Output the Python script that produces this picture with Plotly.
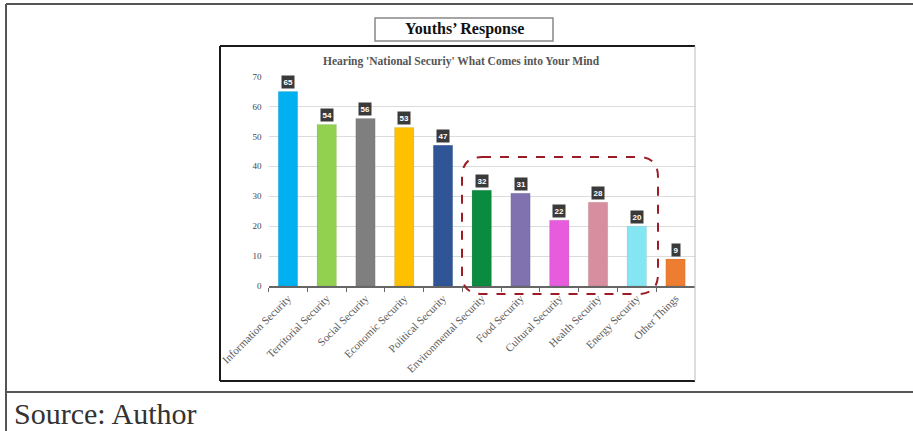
import plotly.graph_objects as go

categories = ["Information Security", "Territorial Security", "Social Security",
              "Economic Security", "Political Security", "Environmental Security",
              "Food Security", "Cultural Security", "Health Security",
              "Energy Security", "Other Things"]
values = [65, 54, 56, 53, 47, 32, 31, 22, 28, 20, 9]
colors = ["#00B0F0", "#92D050", "#7F7F7F", "#FFC000", "#2F5597", "#0A8B3F",
          "#7F72AE", "#E65CDC", "#D78E9E", "#84E6F2", "#ED7D31"]
y_ticks = [0, 10, 20, 30, 40, 50, 60, 70]

W, H = 913, 431


def px(x):
    return x / W


def py(y):
    return 1 - y / H


fig = go.Figure()
fig.add_trace(go.Bar(
    x=categories, y=values,
    marker=dict(color=colors, line=dict(color="rgba(0,0,0,0.12)", width=0.6)),
    hoverinfo="x+y",
))

# data labels (dark boxes)
for c, v in zip(categories, values):
    fig.add_annotation(x=c, y=v, xref="x", yref="y", text="<b>%d</b>" % v,
                       showarrow=False, yanchor="bottom", yshift=2,
                       bgcolor="#3A3A3A", borderpad=1.5,
                       font=dict(family="Liberation Sans", size=8, color="white"))

shapes = []
# outer table frame
shapes.append(dict(type="line", xref="paper", yref="paper", x0=px(6), x1=px(6), y0=py(4), y1=0,
                   line=dict(color="#555555", width=2)))
shapes.append(dict(type="line", xref="paper", yref="paper", x0=px(6), x1=1, y0=py(4), y1=py(4),
                   line=dict(color="#555555", width=2)))
shapes.append(dict(type="line", xref="paper", yref="paper", x0=px(6), x1=1, y0=py(392), y1=py(392),
                   line=dict(color="#555555", width=2)))
# inner picture frame
shapes.append(dict(type="line", xref="paper", yref="paper", x0=px(220), x1=px(220), y0=py(46), y1=py(381),
                   line=dict(color="#1A1A1A", width=2)))
shapes.append(dict(type="line", xref="paper", yref="paper", x0=px(220), x1=px(695), y0=py(46), y1=py(46),
                   line=dict(color="#1A1A1A", width=2)))
shapes.append(dict(type="line", xref="paper", yref="paper", x0=px(220), x1=px(695), y0=py(381), y1=py(381),
                   line=dict(color="#1A1A1A", width=2)))
shapes.append(dict(type="line", xref="paper", yref="paper", x0=px(695), x1=px(695), y0=py(46), y1=py(381),
                   line=dict(color="#BBBBBB", width=1)))
# title box
shapes.append(dict(type="rect", xref="paper", yref="paper", x0=px(375), x1=px(553), y0=py(18), y1=py(41),
                   line=dict(color="#888888", width=1.5)))

# dashed rounded rectangle
x0, x1, y0, y1, r = 462, 658, 157, 294, 20
rx, ry = r / W, r / H
X0, X1, Y0, Y1 = px(x0), px(x1), py(y0), py(y1)
path = (f"M {X0+rx},{Y0} L {X1-rx},{Y0} Q {X1},{Y0} {X1},{Y0-ry} "
        f"L {X1},{Y1+ry} Q {X1},{Y1} {X1-rx},{Y1} "
        f"L {X0+rx},{Y1} Q {X0},{Y1} {X0},{Y1+ry} "
        f"L {X0},{Y0-ry} Q {X0},{Y0} {X0+rx},{Y0} Z")
shapes.append(dict(type="path", xref="paper", yref="paper", path=path,
                   line=dict(color="#9B1C24", width=2, dash="dash")))

fig.update_layout(shapes=shapes)

fig.add_annotation(xref="paper", yref="paper", x=px(464), y=py(29.5), text="<b>Youths’ Response</b>",
                   showarrow=False, xanchor="center", yanchor="middle",
                   font=dict(family="Liberation Serif", size=16, color="#111111"))
fig.add_annotation(xref="paper", yref="paper", x=px(461), y=py(61), text="<b>Hearing 'National Securiy' What Comes into Your Mind</b>",
                   showarrow=False, xanchor="center", yanchor="middle",
                   font=dict(family="Liberation Serif", size=11.5, color="#555555"))
fig.add_annotation(xref="paper", yref="paper", x=px(12), y=py(413), text="Source: Author",
                   showarrow=False, xanchor="left", yanchor="middle",
                   font=dict(family="Liberation Serif", size=30, color="#333333"))

fig.update_layout(
    width=W, height=H, autosize=False,
    margin=dict(l=0, r=0, t=0, b=0, autoexpand=False),
    paper_bgcolor="white", plot_bgcolor="white",
    showlegend=False, bargap=0.5,
    xaxis=dict(domain=[px(268.6), px(694.9)], type="category", range=[-0.5, 10.5],
               automargin=False,
               showline=True, linecolor="#666666", linewidth=1.5,
               ticks="outside", tickson="boundaries", ticklen=4, tickcolor="#666666",
               tickangle=-45, showgrid=False,
               tickfont=dict(family="Liberation Serif", size=11, color="#5A5A5A")),
    yaxis=dict(domain=[py(286), py(76.5)], range=[0, 70], tickvals=y_ticks,
               automargin=False,
               showgrid=True, gridcolor="#DCDCDC", gridwidth=1, zeroline=False,
               showline=False, ticks="", ticklabelstandoff=6,
               tickfont=dict(family="Liberation Serif", size=9, color="#444444"),
               tickprefix="<b>", ticksuffix="</b>"),
)

fig.write_html("out.html")
